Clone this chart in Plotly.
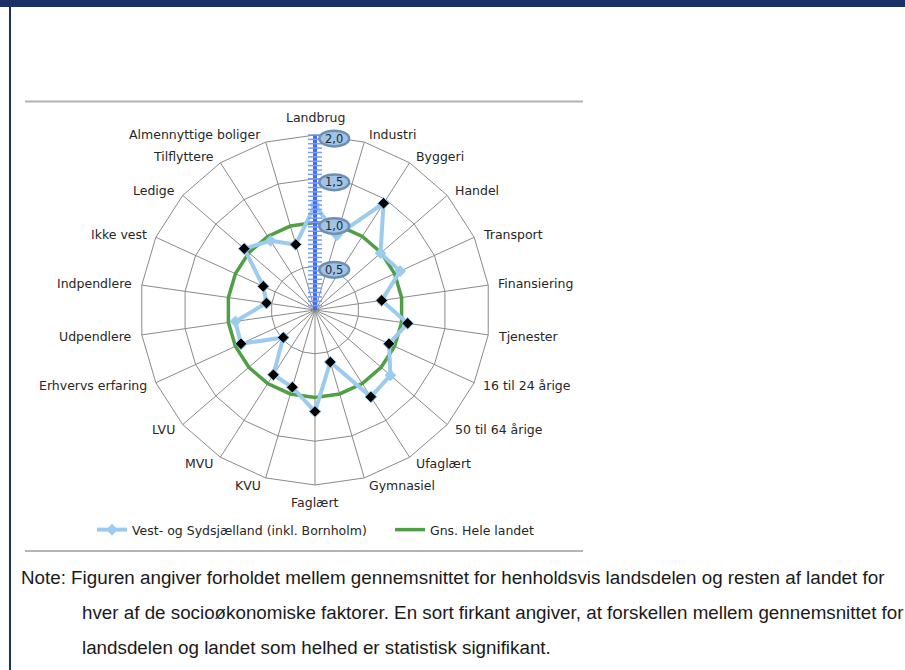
import math
import numpy as np
import plotly.graph_objects as go

# Socio-economic factors (clockwise from the top)
categories = [
    "Landbrug", "Industri", "Byggeri", "Handel", "Transport", "Finansiering",
    "Tjenester", "16 til 24 årige", "50 til 64 årige", "Ufaglært", "Gymnasiel",
    "Faglært", "KVU", "MVU", "LVU", "Erhvervs erfaring", "Udpendlere",
    "Indpendlere", "Ikke vest", "Ledige", "Tilflyttere", "Almennyttige boliger",
]

# Ratio: region average / rest of the country
region_values = [
    1.20, 0.89, 1.45, 0.99, 1.07, 0.77, 1.07, 0.93, 1.14, 1.18, 0.62,
    1.16, 0.92, 0.88, 0.48, 0.93, 0.92, 0.56, 0.65, 1.07, 0.94, 0.78,
]

# True where the difference is statistically significant
significant = [
    False, False, True, False, False, True, True, True, False, True, True,
    True, True, True, True, True, False, True, True, True, False, True,
]

national_values = [1.0] * len(categories)

radial_ticks = [0.5, 1.0, 1.5, 2.0]
radial_tick_text = ["0,5", "1,0", "1,5", "2,0"]

region_name = "Vest- og Sydsjælland (inkl. Bornholm)"
national_name = "Gns. Hele landet"
note_lines = [
    "Note: Figuren angiver forholdet mellem gennemsnittet for henholdsvis landsdelen og resten af landet for",
    "hver af de socioøkonomiske faktorer. En sort firkant angiver, at forskellen mellem gennemsnittet for",
    "landsdelen og landet som helhed er statistisk signifikant.",
]

W, H = 905, 670
CX, CY, RPX = 315, 310, 175          # centre and outer radius of the radar, px
R_MAX = 2.0
PX_PER_UNIT = RPX / R_MAX
DOM_X = [(CX - RPX) / W, (CX + RPX) / W]
DOM_Y = [(H - CY - RPX) / H, (H - CY + RPX) / H]

# Wider cartesian overlay sharing the radar's centre and scale
R_OVL = 3.0
OVL_PX = R_OVL * PX_PER_UNIT
OVL_X = [(CX - OVL_PX) / W, (CX + OVL_PX) / W]
OVL_Y = [(H - CY - OVL_PX) / H, (H - CY + OVL_PX) / H]

LIGHT_BLUE = "#9ccbf0"
GREEN = "#4f9f45"
GRID = "#8a8a8a"
NAVY = "#1c3068"
TEXT = "#262626"
LABEL_FONT = dict(family="DejaVu Sans", size=12.5, color=TEXT)


def closed(seq):
    return list(seq) + [seq[0]]


fig = go.Figure()

# Average for the whole country (always 1.0)
fig.add_trace(go.Scatterpolar(
    r=closed(national_values), theta=closed(categories), mode="lines",
    line=dict(color=GREEN, width=3.5), name=national_name, legend="legend2",
))

# Region series
fig.add_trace(go.Scatterpolar(
    r=closed(region_values), theta=closed(categories), mode="lines+markers",
    line=dict(color=LIGHT_BLUE, width=4),
    marker=dict(symbol="diamond", size=9, color=LIGHT_BLUE),
    name=region_name, legend="legend",
))

# Black diamonds on the significant factors
sig_r = [v for v, s in zip(region_values, significant) if s]
sig_t = [c for c, s in zip(categories, significant) if s]
fig.add_trace(go.Scatterpolar(
    r=sig_r, theta=sig_t, mode="markers",
    marker=dict(symbol="diamond", size=9, color="black",
                line=dict(color=LIGHT_BLUE, width=1)),
    showlegend=False,
))

# Radial value axis drawn along the first spoke, with fine tick marks
fig.add_trace(go.Scatterpolar(
    r=[0, R_MAX], theta=[categories[0], categories[0]], mode="lines",
    line=dict(color="#3f6cf2", width=4), showlegend=False, hoverinfo="skip",
))
minor_r = np.round(np.arange(0.05, R_MAX + 1e-4, 0.05), 2)
fig.add_trace(go.Scatterpolar(
    r=minor_r, theta=[categories[0]] * len(minor_r), mode="markers",
    marker=dict(symbol="line-ew", size=10, line=dict(color="#7b9cff", width=1.5)),
    showlegend=False, hoverinfo="skip",
))

# One single-entry legend per series, so each can be placed freely
legend_common = dict(orientation="v", y=(H - 530) / H, yanchor="middle",
                     xanchor="left", bgcolor="rgba(0,0,0,0)", font=LABEL_FONT)

fig.update_layout(
    width=W, height=H,
    margin=dict(l=0, r=0, t=0, b=0),
    paper_bgcolor="white",
    plot_bgcolor="rgba(0,0,0,0)",
    font=LABEL_FONT,
    polar=dict(
        domain=dict(x=DOM_X, y=DOM_Y),
        bgcolor="rgba(0,0,0,0)",
        gridshape="linear",
        angularaxis=dict(
            direction="clockwise", rotation=90, categoryorder="array",
            categoryarray=categories, showline=True, linecolor=GRID,
            linewidth=1, gridcolor=GRID, gridwidth=1, ticks="",
            showticklabels=False,
        ),
        radialaxis=dict(
            range=[0, R_MAX], tickvals=radial_ticks, showticklabels=False,
            showline=False, ticks="", gridcolor=GRID, gridwidth=1, angle=90,
        ),
    ),
    xaxis=dict(domain=OVL_X, range=[-R_OVL, R_OVL], visible=False, fixedrange=True),
    yaxis=dict(domain=OVL_Y, range=[-R_OVL, R_OVL], visible=False, fixedrange=True),
    legend=dict(x=92 / W, **legend_common),
    legend2=dict(x=390 / W, **legend_common),
    showlegend=True,
)

shapes = [
    # title band and left frame edge, in pixels from the top-left corner
    dict(type="rect", xref="paper", yref="paper", x0=0, x1=1, y0=1 - 7 / H, y1=1,
         fillcolor=NAVY, line=dict(width=0), layer="above"),
    dict(type="rect", xref="paper", yref="paper", x0=9 / W, x1=11 / W, y0=0, y1=1 - 7 / H,
         fillcolor=NAVY, line=dict(width=0), layer="above"),
    dict(type="line", xref="paper", yref="paper", x0=25 / W, x1=583 / W,
         y0=1 - 101.5 / H, y1=1 - 101.5 / H, line=dict(color="#b4b4b4", width=2)),
    dict(type="line", xref="paper", yref="paper", x0=25 / W, x1=583 / W,
         y0=1 - 551 / H, y1=1 - 551 / H, line=dict(color="#b4b4b4", width=2)),
]
annotations = []

# Category labels just outside the outer ring
label_r = R_MAX * 1.045
n = len(categories)
for i, cat in enumerate(categories):
    ang = 2 * math.pi * i / n
    s, c = math.sin(ang), math.cos(ang)
    xa = "left" if s > 0.05 else ("right" if s < -0.05 else "center")
    ya = "middle"
    if c > 0.97:
        ya = "bottom"
    elif c < -0.97:
        ya = "top"
    annotations.append(dict(x=label_r * s, y=label_r * c, xref="x", yref="y",
                            text=cat, showarrow=False, xanchor=xa, yanchor=ya,
                            font=LABEL_FONT))

# Value badges along the radial axis
for v, t in zip(radial_ticks, radial_tick_text):
    yc = v - 0.04
    shapes.append(dict(type="circle", xref="x", yref="y", x0=0.05, x1=0.39,
                       y0=yc - 0.09, y1=yc + 0.09, fillcolor="#9fc4e6",
                       line=dict(color="#6d8fb3", width=2.5), layer="above"))
    annotations.append(dict(x=0.22, y=yc, xref="x", yref="y", text=t,
                            showarrow=False,
                            font=dict(family="DejaVu Sans", size=11.5, color=TEXT)))

for i, line in enumerate(note_lines):
    annotations.append(dict(
        x=(19 if i == 0 else 80) / W, y=1 - (577 + 35 * i) / H,
        xref="paper", yref="paper", xanchor="left", yanchor="middle",
        text=line, showarrow=False,
        font=dict(family="Liberation Sans", size=18.8, color="#1a1a1a"),
    ))

fig.update_layout(shapes=shapes, annotations=annotations)
fig.write_html("out.html", config={"displayModeBar": False})
